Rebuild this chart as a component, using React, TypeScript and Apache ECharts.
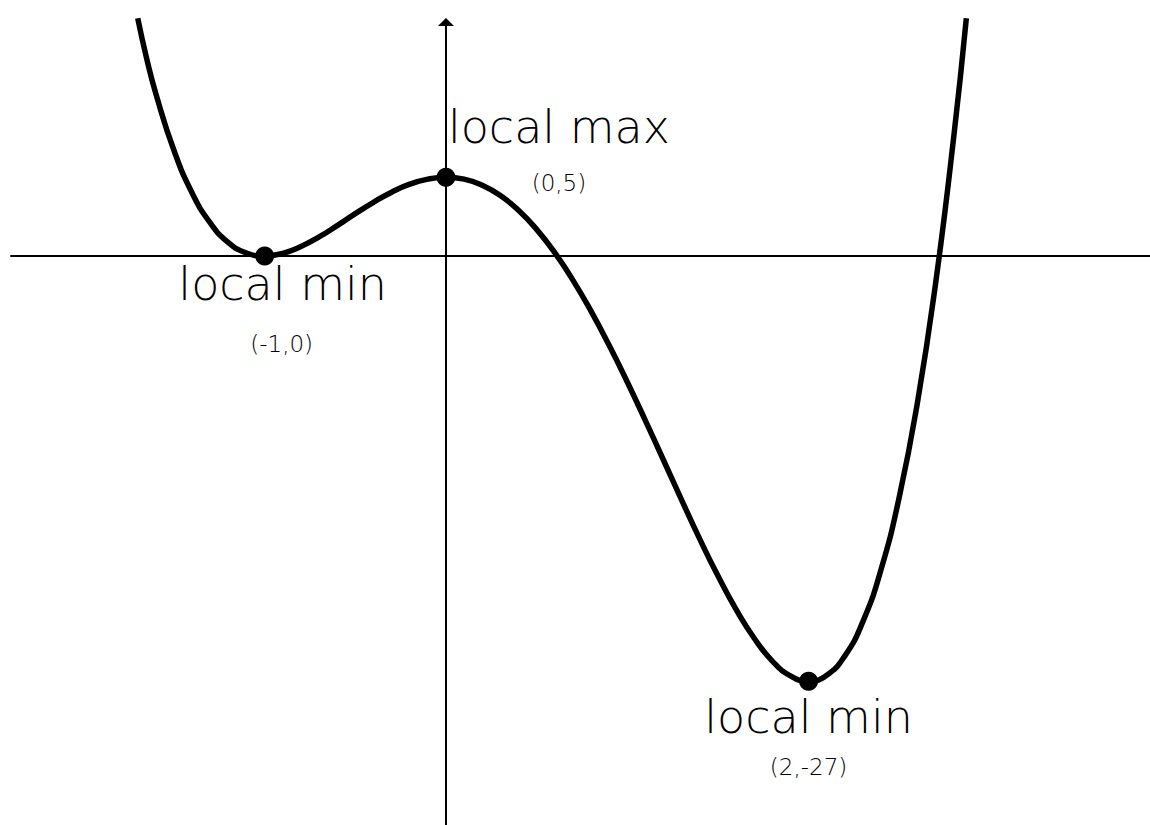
import React, { useEffect, useRef } from "react";
import * as echarts from "echarts";

// Curve: x values and y values
const curveX = [
  -1.7, -1.65, -1.6, -1.5, -1.4, -1.3, -1.2, -1.1, -1.0, -0.9, -0.8, -0.7, -0.6, -0.5, -0.4,
  -0.3, -0.2, -0.1, 0, 0.1, 0.2, 0.3, 0.4, 0.5, 0.6, 0.7, 0.8, 0.9, 1.0, 1.1, 1.2, 1.3, 1.4,
  1.5, 1.6, 1.7, 1.8, 1.9, 2.0, 2.1, 2.2, 2.3, 2.4, 2.5, 2.6, 2.7, 2.8, 2.87,
];
const curveY = [
  15.1, 12.5, 10.3, 6.7, 4.0, 2.1, 0.85, 0.19, 0, 0.17, 0.6, 1.21, 1.93, 2.69, 3.41,
  4.05, 4.56, 4.88, 5, 4.88, 4.49, 3.84, 2.9, 1.69, 0.21, -1.53, -3.5, -5.67, -8, -10.45, -12.97, -15.5, -17.98,
  -20.31, -22.44, -24.27, -25.72, -26.66, -27, -26.62, -25.39, -23.2, -19.89, -15.31, -9.33, -1.78, 7.51, 15.1,
];

// Marked extrema
const extremaX = [-1, 0, 2];
const extremaY = [0, 5, -27];
const extremaNames = ["local min", "local max", "local min"];
const extremaCoords = ["(-1,0)", "(0,5)", "(2,-27)"];

// label offsets (pixels) relative to each point
const nameOffsets = [
  [18, 28],
  [113, -50],
  [0, 36],
];
const coordOffsets = [
  [17, 88],
  [113, 6],
  [0, 86],
];

const X_MIN = -2.399;
const X_MAX = 3.883;
const Y_MIN = -36.13;
const Y_MAX = 14.857;

export default function App() {
  const ref = useRef<HTMLDivElement>(null);

  useEffect(() => {
    if (!ref.current) return;
    const chart = echarts.init(ref.current, null, { renderer: "svg" });
    const font = "'DejaVu Sans', 'Noto Sans', sans-serif";
    chart.setOption({
      animation: false,
      backgroundColor: "#ffffff",
      grid: { left: 11, right: 0, top: 22, bottom: 0, containLabel: false },
      xAxis: {
        type: "value",
        min: X_MIN,
        max: X_MAX,
        axisLine: { show: true, onZero: true, lineStyle: { color: "#000", width: 2 } },
        axisTick: { show: false },
        axisLabel: { show: false },
        splitLine: { show: false },
      },
      yAxis: {
        type: "value",
        min: Y_MIN,
        max: Y_MAX,
        axisLine: {
          show: true,
          onZero: true,
          symbol: ["none", "triangle"],
          symbolSize: [16, 8],
          lineStyle: { color: "#000", width: 2 },
        },
        axisTick: { show: false },
        axisLabel: { show: false },
        splitLine: { show: false },
      },
      series: [
        {
          type: "line",
          data: curveX.map((x, i) => [x, curveY[i]]),
          smooth: 0.5,
          showSymbol: false,
          clip: false,
          lineStyle: { color: "#000", width: 5.5 },
          z: 3,
        },
        {
          type: "scatter",
          symbol: "circle",
          symbolSize: 19,
          itemStyle: { color: "#000", opacity: 1 },
          z: 5,
          data: extremaX.map((x, i) => ({
            value: [x, extremaY[i]],
            label: {
              show: true,
              position: "inside",
              offset: nameOffsets[i],
              formatter: extremaNames[i],
              color: "#000",
              opacity: 1,
              fontFamily: font,
              fontWeight: 200,
              fontSize: 46,
              align: "center",
              verticalAlign: "middle",
            },
          })),
        },
        {
          type: "scatter",
          symbol: "circle",
          symbolSize: 0,
          itemStyle: { color: "#000", opacity: 1 },
          z: 5,
          data: extremaX.map((x, i) => ({
            value: [x, extremaY[i]],
            label: {
              show: true,
              position: "inside",
              offset: coordOffsets[i],
              formatter: extremaCoords[i],
              color: "#000",
              opacity: 1,
              fontFamily: font,
              fontWeight: 200,
              fontSize: 23,
              align: "center",
              verticalAlign: "middle",
            },
          })),
        },
      ],
    });
    return () => chart.dispose();
  }, []);

  return (
    <div
      ref={ref}
      style={{ position: "fixed", left: 0, top: 0, width: 1150, height: 825, background: "#fff" }}
    />
  );
}
